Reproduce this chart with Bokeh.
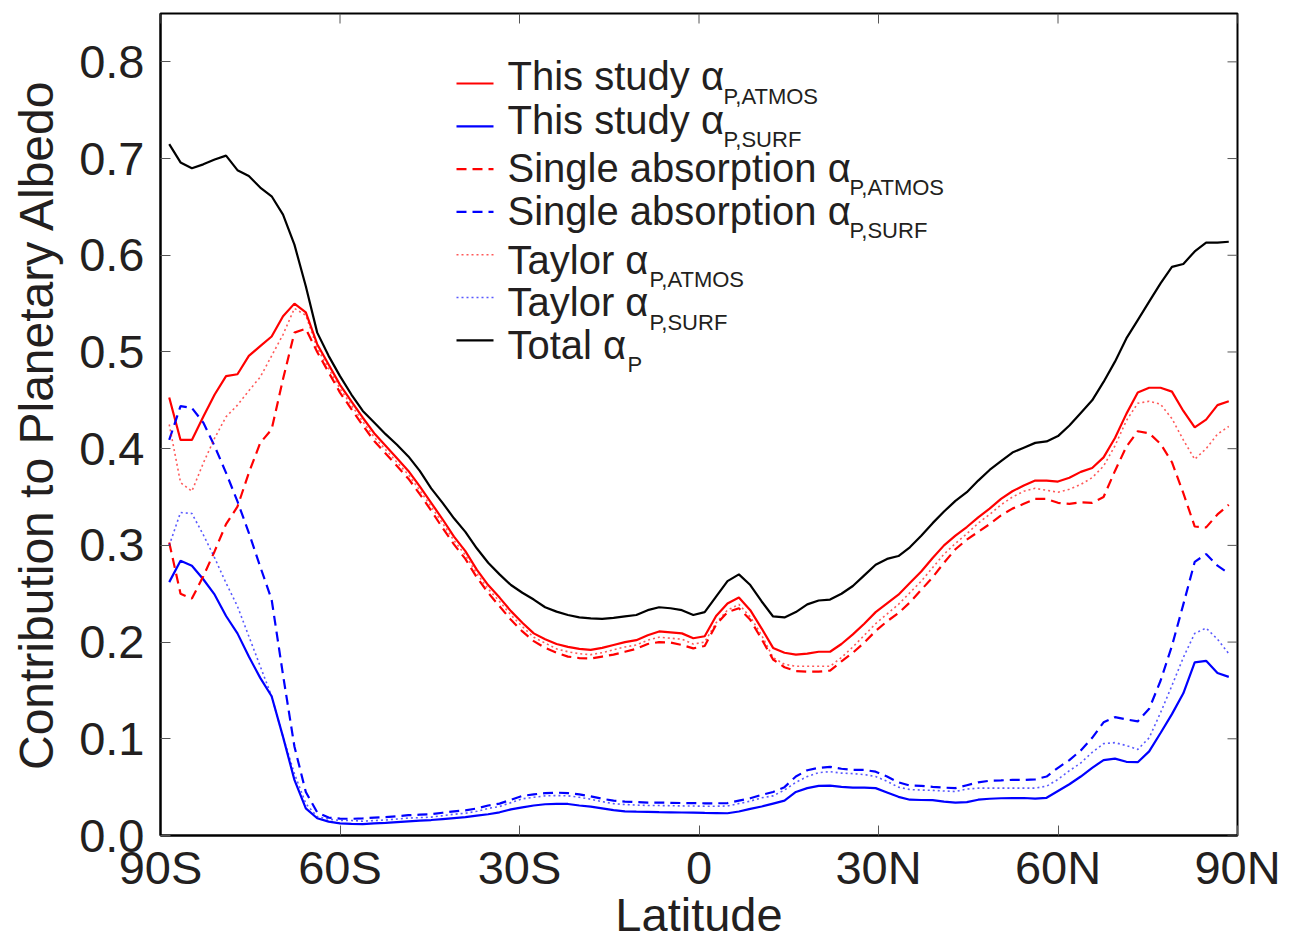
from bokeh.plotting import figure
from bokeh.models import (ColumnDataSource, Range1d, FixedTicker, PrintfTickFormatter,
                          Label, Arrow)
from bokeh.embed import file_html
from bokeh.resources import INLINE

# ---------------- data (T62 Gaussian latitudes) ----------------
lat_south = [-88.542, -86.653, -84.753, -82.851, -80.947, -79.043, -77.139, -75.235,
             -73.331, -71.426, -69.522, -67.617, -65.713, -63.808, -61.904, -59.999,
             -58.095, -56.190, -54.285, -52.381, -50.476, -48.571, -46.667, -44.762,
             -42.857, -40.952, -39.048, -37.143, -35.238, -33.333, -31.428, -29.524,
             -27.619, -25.714, -23.809, -21.905, -20.000, -18.095, -16.190, -14.286,
             -12.381, -10.476, -8.571, -6.667, -4.762, -2.857, -0.952]
latitude = lat_south + [-v for v in reversed(lat_south)]

this_atmos = [0.453, 0.409, 0.409, 0.433, 0.456, 0.475, 0.477, 0.496, 0.506, 0.516,
              0.537, 0.550, 0.541, 0.508, 0.487, 0.466, 0.449, 0.432, 0.416, 0.403,
              0.390, 0.377, 0.361, 0.344, 0.327, 0.309, 0.294, 0.275, 0.259, 0.246,
              0.232, 0.220, 0.209, 0.203, 0.198, 0.195, 0.193, 0.192, 0.194, 0.197,
              0.200, 0.202, 0.207, 0.211, 0.210, 0.209, 0.204, 0.206, 0.227, 0.240,
              0.246, 0.233, 0.214, 0.194, 0.189, 0.187, 0.188, 0.190, 0.190, 0.198,
              0.208, 0.219, 0.231, 0.240, 0.249, 0.261, 0.273, 0.287, 0.300, 0.310,
              0.319, 0.329, 0.338, 0.348, 0.356, 0.362, 0.367, 0.367, 0.366, 0.370,
              0.376, 0.380, 0.391, 0.411, 0.436, 0.458, 0.463, 0.463, 0.459, 0.439,
              0.422, 0.430, 0.445, 0.449]

this_surf = [0.262, 0.284, 0.279, 0.265, 0.249, 0.227, 0.209, 0.185, 0.163, 0.144,
             0.102, 0.0575, 0.028, 0.0178, 0.0143, 0.0126, 0.012, 0.0118, 0.0125, 0.013,
             0.0138, 0.0146, 0.0153, 0.016, 0.017, 0.018, 0.019, 0.0205, 0.022, 0.024,
             0.027, 0.029, 0.031, 0.0323, 0.0326, 0.0326, 0.031, 0.0298, 0.028, 0.0262,
             0.025, 0.0246, 0.0245, 0.0242, 0.024, 0.0238, 0.0237, 0.0234, 0.0232, 0.023,
             0.0248, 0.0275, 0.030, 0.033, 0.036, 0.045, 0.049, 0.0513, 0.0515, 0.0503,
             0.0495, 0.0495, 0.049, 0.0445, 0.040, 0.037, 0.0367, 0.0365, 0.035, 0.034,
             0.0345, 0.037, 0.038, 0.0385, 0.0387, 0.0388, 0.0382, 0.039, 0.046, 0.053,
             0.061, 0.070, 0.078, 0.0795, 0.0762, 0.0758, 0.087, 0.106, 0.1255, 0.147,
             0.179, 0.1806, 0.168, 0.164]

single_atmos = [0.303, 0.250, 0.245, 0.268, 0.294, 0.322, 0.340, 0.375, 0.406, 0.420,
                0.472, 0.520, 0.524, 0.500, 0.479, 0.458, 0.441, 0.424, 0.408, 0.395,
                0.382, 0.369, 0.353, 0.336, 0.318, 0.301, 0.286, 0.267, 0.251, 0.237,
                0.223, 0.211, 0.201, 0.194, 0.189, 0.185, 0.1835, 0.183, 0.185, 0.187,
                0.190, 0.193, 0.198, 0.200, 0.1995, 0.197, 0.1935, 0.196, 0.218, 0.231,
                0.235, 0.223, 0.203, 0.182, 0.174, 0.170, 0.1695, 0.1695, 0.1705, 0.180,
                0.189, 0.1995, 0.2115, 0.2215, 0.230, 0.241, 0.254, 0.267, 0.282, 0.296,
                0.306, 0.314, 0.322, 0.331, 0.338, 0.343, 0.348, 0.348, 0.344, 0.343,
                0.3445, 0.344, 0.350, 0.377, 0.402, 0.418, 0.416, 0.405, 0.386, 0.354,
                0.3195, 0.3186, 0.332, 0.342]

single_surf = [0.409, 0.444, 0.442, 0.427, 0.4025, 0.375, 0.3455, 0.313, 0.278, 0.244,
               0.166, 0.092, 0.045, 0.024, 0.0185, 0.0175, 0.0172, 0.0177, 0.0185, 0.019,
               0.020, 0.021, 0.0215, 0.022, 0.0235, 0.025, 0.026, 0.028, 0.031, 0.033,
               0.037, 0.041, 0.0425, 0.0438, 0.0443, 0.0438, 0.0425, 0.0405, 0.038, 0.036,
               0.035, 0.0345, 0.034, 0.034, 0.0338, 0.0336, 0.0335, 0.0333, 0.0333, 0.0335,
               0.036, 0.0385, 0.042, 0.045, 0.050, 0.061, 0.0675, 0.070, 0.071, 0.069,
               0.0678, 0.0678, 0.066, 0.061, 0.055, 0.0516, 0.0513, 0.0503, 0.0495, 0.049,
               0.052, 0.055, 0.0566, 0.057, 0.0575, 0.0575, 0.058, 0.061, 0.070, 0.078,
               0.088, 0.101, 0.117, 0.1224, 0.120, 0.118, 0.131, 0.160, 0.196, 0.239,
               0.283, 0.291, 0.279, 0.271]

taylor_atmos = [0.425, 0.365, 0.356, 0.385, 0.411, 0.433, 0.445, 0.460, 0.474, 0.496,
                0.518, 0.545, 0.538, 0.504, 0.483, 0.462, 0.445, 0.428, 0.412, 0.399,
                0.386, 0.373, 0.357, 0.340, 0.323, 0.305, 0.290, 0.271, 0.255, 0.242,
                0.228, 0.216, 0.205, 0.199, 0.193, 0.190, 0.188, 0.187, 0.189, 0.192,
                0.195, 0.197, 0.202, 0.205, 0.204, 0.203, 0.198, 0.200, 0.220, 0.233,
                0.239, 0.226, 0.207, 0.184, 0.177, 0.175, 0.175, 0.175, 0.175, 0.184,
                0.195, 0.207, 0.219, 0.229, 0.239, 0.251, 0.263, 0.277, 0.291, 0.302,
                0.312, 0.323, 0.332, 0.342, 0.350, 0.356, 0.359, 0.357, 0.355, 0.358,
                0.363, 0.370, 0.382, 0.403, 0.429, 0.447, 0.449, 0.446, 0.431, 0.409,
                0.389, 0.400, 0.415, 0.423]

taylor_surf = [0.300, 0.334, 0.333, 0.311, 0.287, 0.261, 0.237, 0.206, 0.175, 0.144,
               0.102, 0.064, 0.033, 0.0195, 0.017, 0.0155, 0.0155, 0.0148, 0.0155, 0.016,
               0.017, 0.018, 0.0185, 0.019, 0.0205, 0.022, 0.023, 0.025, 0.028, 0.030,
               0.034, 0.038, 0.0395, 0.041, 0.0413, 0.041, 0.0395, 0.0375, 0.035, 0.033,
               0.032, 0.0315, 0.031, 0.031, 0.0308, 0.0306, 0.0305, 0.0303, 0.0303, 0.0305,
               0.033, 0.0355, 0.039, 0.041, 0.047, 0.055, 0.061, 0.065, 0.066, 0.0645,
               0.064, 0.063, 0.061, 0.056, 0.050, 0.0475, 0.047, 0.0467, 0.046, 0.0455,
               0.048, 0.049, 0.049, 0.049, 0.049, 0.049, 0.049, 0.051, 0.058, 0.067,
               0.075, 0.086, 0.095, 0.096, 0.093, 0.089, 0.101, 0.127, 0.155, 0.184,
               0.209, 0.2145, 0.203, 0.188]

total = [0.715, 0.696, 0.690, 0.694, 0.699, 0.703, 0.688, 0.682, 0.670, 0.661,
         0.642, 0.611, 0.568, 0.520, 0.496, 0.475, 0.456, 0.439, 0.427, 0.415,
         0.404, 0.392, 0.377, 0.359, 0.344, 0.328, 0.314, 0.297, 0.282, 0.270,
         0.259, 0.251, 0.244, 0.236, 0.2315, 0.228, 0.2255, 0.2245, 0.224, 0.225,
         0.2265, 0.228, 0.233, 0.236, 0.235, 0.233, 0.228, 0.231, 0.247, 0.263,
         0.270, 0.259, 0.242, 0.2265, 0.2255, 0.231, 0.239, 0.243, 0.244, 0.250,
         0.258, 0.269, 0.280, 0.286, 0.289, 0.298, 0.310, 0.323, 0.335, 0.346,
         0.355, 0.367, 0.378, 0.387, 0.396, 0.401, 0.406, 0.4075, 0.413, 0.424,
         0.437, 0.450, 0.469, 0.490, 0.514, 0.533, 0.552, 0.571, 0.588, 0.591,
         0.604, 0.613, 0.613, 0.614]

x_ticks = [-90, -60, -30, 0, 30, 60, 90]
x_tick_labels = ["90S", "60S", "30S", "0", "30N", "60N", "90N"]
y_ticks = [0.0, 0.1, 0.2, 0.3, 0.4, 0.5, 0.6, 0.7, 0.8]
x_title = "Latitude"
y_title = "Contribution to Planetary Albedo"

legend_main = ["This study α", "This study α", "Single absorption α", "Single absorption α",
               "Taylor α", "Taylor α", "Total α"]
legend_sub = ["P,ATMOS", "P,SURF", "P,ATMOS", "P,SURF", "P,ATMOS", "P,SURF", "P"]

# ---------------- styling ----------------
FONT = "Liberation Sans"
TXT = "#231f20"
RED = "#ff0000"
BLUE = "#0000ff"
DASH = "10 6"
DOT = "2 3"
TICK = "#555555"
styles = [
    dict(line_color=RED, line_width=2.2, line_dash="solid", line_alpha=1.0),
    dict(line_color=BLUE, line_width=2.2, line_dash="solid", line_alpha=1.0),
    dict(line_color=RED, line_width=2.2, line_dash=DASH, line_alpha=1.0),
    dict(line_color=BLUE, line_width=2.2, line_dash=DASH, line_alpha=1.0),
    dict(line_color=RED, line_width=1.6, line_dash=DOT, line_alpha=0.65),
    dict(line_color=BLUE, line_width=1.6, line_dash=DOT, line_alpha=0.65),
    dict(line_color="black", line_width=2.2, line_dash="solid", line_alpha=1.0),
]
series_names = ["this_atmos", "this_surf", "single_atmos", "single_surf",
                "taylor_atmos", "taylor_surf", "total"]

source = ColumnDataSource(dict(latitude=latitude, this_atmos=this_atmos, this_surf=this_surf,
                               single_atmos=single_atmos, single_surf=single_surf,
                               taylor_atmos=taylor_atmos, taylor_surf=taylor_surf,
                               total=total))

# frame in page pixels: left 160, right 1237, top 13, bottom 835
W, H = 1294, 943
p = figure(width=W, height=H, output_backend="svg", toolbar_location=None,
           x_range=Range1d(-90, 90), y_range=Range1d(0, 0.85),
           min_border_left=160, min_border_right=W - 1237, min_border_top=13,
           min_border_bottom=H - 835)
p.grid.visible = False
p.background_fill_color = "white"
p.border_fill_color = "white"
p.outline_line_color = "black"
p.outline_line_width = 2

# draw the series
for name, st in zip(series_names, styles):
    p.line("latitude", name, source=source, **st)

# ---------------- axes ----------------
xa = p.xaxis[0]
xa.ticker = FixedTicker(ticks=x_ticks)
xa.major_label_overrides = {t: l for t, l in zip(x_ticks, x_tick_labels)}
xa.axis_label = x_title
xa.axis_label_standoff = -9
xa.major_label_standoff = 5

ya = p.yaxis[0]
ya.ticker = FixedTicker(ticks=y_ticks)
ya.formatter = PrintfTickFormatter(format="%.1f")
ya.axis_label = y_title
ya.axis_label_standoff = 13
ya.major_label_standoff = 16

for ax in (xa, ya):
    ax.axis_line_color = "black"
    ax.axis_line_width = 2
    ax.major_tick_in = 10
    ax.major_tick_out = 0
    ax.minor_tick_in = 0
    ax.minor_tick_out = 0
    ax.major_tick_line_color = TICK
    ax.major_tick_line_width = 1
    ax.major_label_text_font = FONT
    ax.major_label_text_font_size = "47px"
    ax.major_label_text_color = TXT
    ax.axis_label_text_font = FONT
    ax.axis_label_text_font_style = "normal"
    ax.axis_label_text_color = TXT
xa.axis_label_text_font_size = "47px"
ya.axis_label_text_font_size = "48px"

PXW = 1077.0 / 180.0      # pixels per degree of latitude
PYH = 822.0 / 0.85        # pixels per albedo unit


def px2x(px):
    return (px - 160.0) / PXW - 90.0


def py2y(py):
    return (835.0 - py) / PYH


# mirrored inward ticks on the top and right frame edges
for t in x_ticks:
    p.add_layout(Arrow(end=None, x_start=t, y_start=0.85, x_end=t, y_end=0.85 - 10.0 / PYH,
                       line_color=TICK, line_width=1))
for t in y_ticks:
    p.add_layout(Arrow(end=None, x_start=90, y_start=t, x_end=90 - 10.0 / PXW, y_end=t,
                       line_color=TICK, line_width=1))

# ---------------- legend (manual, with subscripts) ----------------
text_x = 507.0
sub_x = [723.0, 723.0, 849.0, 849.0, 649.0, 649.0, 627.0]
text_base = [91.7, 135.0, 183.3, 226.0, 275.0, 317.7, 360.0]
for k, (mt, st_, style) in enumerate(zip(legend_main, legend_sub, styles)):
    base = text_base[k] - 16.0
    ly = 83.0 + 42.8 * k
    p.add_layout(Arrow(end=None, x_start=px2x(456), y_start=py2y(ly),
                       x_end=px2x(493), y_end=py2y(ly), **style))
    p.add_layout(Label(x=px2x(text_x), y=py2y(base), text=mt, text_font=FONT,
                       text_font_size="40px", text_color=TXT, text_baseline="alphabetic",
                       text_align="left"))
    p.add_layout(Label(x=px2x(sub_x[k]), y=py2y(text_base[k] + 12.0 - 8.0), text=st_,
                       text_font=FONT, text_font_size="22px", text_color=TXT,
                       text_baseline="alphabetic", text_align="left"))

open("out.html", "w").write(file_html(p, INLINE))
